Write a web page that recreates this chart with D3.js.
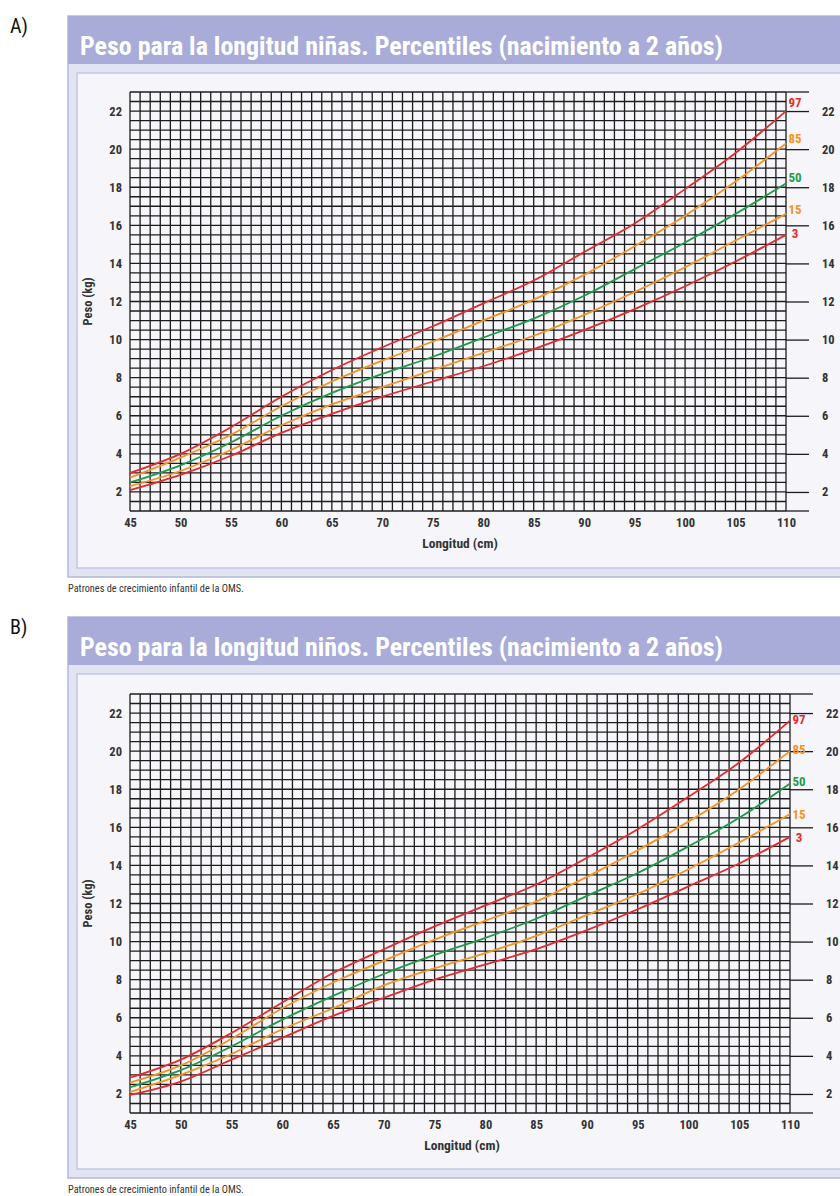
<!DOCTYPE html>
<html>
<head>
<meta charset="utf-8">
<script src="https://cdn.jsdelivr.net/npm/d3@7"></script>
<style>
body { margin: 0; background: #fff; }
text { font-family: "Liberation Sans Narrow", "Roboto Condensed", "DejaVu Sans Condensed", Roboto, sans-serif; }
</style>
</head>
<body>
<script>
// lengths (cm) where the curves are read
var lengths = [45, 50, 55, 60, 65, 70, 75, 80, 85, 90, 95, 100, 105, 110]
var percentiles = ["3", "15", "50", "85", "97"]
var lineColors = ["#e52a2f", "#f39324", "#1f9a4a", "#f39324", "#e52a2f"]
var xTicks = [45, 50, 55, 60, 65, 70, 75, 80, 85, 90, 95, 100, 105, 110]
var yTicks = [2, 4, 6, 8, 10, 12, 14, 16, 18, 20, 22]

// niñas
var girlsP3  = [2.1, 2.9, 3.9, 5.1, 6.1, 7.0, 7.8, 8.6, 9.5, 10.5, 11.6, 12.8, 14.1, 15.5]
var girlsP15 = [2.3, 3.1, 4.2, 5.5, 6.6, 7.5, 8.4, 9.3, 10.2, 11.3, 12.5, 13.8, 15.2, 16.6]
var girlsP50 = [2.5, 3.4, 4.6, 6.0, 7.2, 8.2, 9.1, 10.1, 11.1, 12.3, 13.7, 15.1, 16.6, 18.2]
var girlsP85 = [2.75, 3.8, 5.0, 6.5, 7.8, 8.9, 9.9, 11.0, 12.1, 13.4, 14.9, 16.5, 18.3, 20.3]
var girlsP97 = [3.0, 4.0, 5.4, 7.0, 8.4, 9.6, 10.7, 11.9, 13.1, 14.6, 16.1, 17.9, 19.8, 22.0]

// niños
var boysP3  = [1.95, 2.65, 3.8, 4.95, 6.1, 7.05, 8.0, 8.8, 9.6, 10.6, 11.7, 12.9, 14.1, 15.5]
var boysP15 = [2.1, 3.0, 4.1, 5.4, 6.5, 7.7, 8.6, 9.4, 10.3, 11.4, 12.5, 13.8, 15.2, 16.7]
var boysP50 = [2.35, 3.25, 4.5, 5.9, 7.15, 8.3, 9.3, 10.2, 11.2, 12.4, 13.6, 15.0, 16.5, 18.3]
var boysP85 = [2.6, 3.5, 4.9, 6.5, 7.85, 9.0, 10.1, 11.1, 12.1, 13.4, 14.8, 16.3, 18.0, 20.0]
var boysP97 = [2.85, 3.8, 5.2, 6.8, 8.35, 9.6, 10.8, 11.9, 13.0, 14.4, 15.9, 17.6, 19.4, 21.6]

var svg = d3.select("body").append("svg")
    .attr("width", 840)
    .attr("height", 1196)

function drawChart(top, letter, title, series, plot, labelDy) {
    var g = svg.append("g").attr("transform", "translate(0," + top + ")")

    g.append("text")
        .attr("x", 10).attr("y", 33)
        .attr("font-family", "Open Sans, sans-serif")
        .attr("font-size", 20).attr("fill", "#111")
        .text(letter)

    // panel
    g.append("rect").attr("x", 68).attr("y", 16).attr("width", 790).attr("height", 561)
        .attr("fill", "#e3e4f2").attr("stroke", "#b4b7dd").attr("stroke-width", 1.5)
    g.append("rect").attr("x", 77).attr("y", 73).attr("width", 780).attr("height", 495)
        .attr("fill", "#f6f6fa").attr("stroke", "#c4c6e6").attr("stroke-width", 1.5)
    g.append("rect").attr("x", 68).attr("y", 16).attr("width", 790).attr("height", 48)
        .attr("fill", "#a9acd8")

    g.append("text")
        .attr("x", 80).attr("y", 55)
        .attr("font-size", 25).attr("font-weight", "bold").attr("fill", "#fff")
        .attr("textLength", 643).attr("lengthAdjust", "spacingAndGlyphs")
        .text(title)

    var x = d3.scaleLinear().domain([45, 110]).range([plot.left, plot.right])
    var y = d3.scaleLinear().domain([1, 23]).range([plot.bottom, plot.top])

    // grid
    var grid = g.append("g").attr("stroke", "#1c1c1c").attr("stroke-width", 1.3)
    grid.selectAll(".v").data(d3.range(45, 111, 1)).join("line")
        .attr("x1", d => x(d)).attr("x2", d => x(d))
        .attr("y1", plot.top).attr("y2", plot.bottom)
    grid.selectAll(".h").data(d3.range(1, 23.01, 0.5)).join("line")
        .attr("x1", plot.left).attr("x2", plot.right)
        .attr("y1", d => y(d)).attr("y2", d => y(d))
    grid.append("line").attr("x1", plot.right).attr("x2", plot.right + 23)
        .attr("y1", y(23)).attr("y2", y(23))
    grid.append("line").attr("x1", plot.right).attr("x2", plot.right + 23)
        .attr("y1", y(1)).attr("y2", y(1))

    var bottomAxis = g.append("g")
        .attr("transform", "translate(0," + plot.bottom + ")")
        .call(d3.axisBottom(x).tickValues(xTicks).tickSize(0).tickPadding(7))
    var leftAxis = g.append("g")
        .attr("transform", "translate(" + plot.left + ",0)")
        .call(d3.axisLeft(y).tickValues(yTicks).tickSize(0).tickPadding(8))
    var rightAxis = g.append("g")
        .attr("transform", "translate(" + plot.right + ",0)")
        .call(d3.axisRight(y).tickValues(yTicks).tickSize(23).tickPadding(13))

    ;[bottomAxis, leftAxis, rightAxis].forEach(function(a) {
        a.select(".domain").remove()
        a.selectAll("text")
            .attr("font-family", "Liberation Sans Narrow, Roboto Condensed, DejaVu Sans Condensed, sans-serif")
            .attr("font-size", 12.5).attr("font-weight", "bold").attr("fill", "#333")
    })
    rightAxis.selectAll("line").attr("stroke", "#1c1c1c").attr("stroke-width", 1.3)

    g.append("text")
        .attr("x", (plot.left + plot.right) / 2 + 2).attr("y", plot.bottom + 37)
        .attr("text-anchor", "middle")
        .attr("font-size", 13.5).attr("font-weight", "bold").attr("fill", "#333")
        .text("Longitud (cm)")

    g.append("text")
        .attr("transform", "translate(92," + (plot.top + plot.bottom) / 2 + ") rotate(-90)")
        .attr("text-anchor", "middle")
        .attr("font-size", 12.5).attr("font-weight", "bold").attr("fill", "#333")
        .text("Peso (kg)")

    // percentile curves
    var line = d3.line()
        .x((d, i) => x(lengths[i]))
        .y(d => y(d))
        .curve(d3.curveMonotoneX)

    series.forEach(function(s, k) {
        g.append("path")
            .attr("d", line(s))
            .attr("fill", "none")
            .attr("stroke", lineColors[k])
            .attr("stroke-width", 1.8)

        g.append("text")
            .attr("x", x(110) + 9)
            .attr("y", y(s[s.length - 1]) + labelDy[k])
            .attr("text-anchor", "middle")
            .attr("font-size", 13).attr("font-weight", "bold")
            .attr("fill", lineColors[k])
            .text(percentiles[k])
    })

    g.append("text")
        .attr("x", 68).attr("y", 592)
        .attr("font-family", "Liberation Sans, Arial, sans-serif")
        .attr("font-size", 10.3).attr("fill", "#333")
        .text("Patrones de crecimiento infantil de la OMS.")
}

drawChart(0, "A)", "Peso para la longitud niñas. Percentiles (nacimiento a 2 años)",
    [girlsP3, girlsP15, girlsP50, girlsP85, girlsP97],
    {left: 130, right: 786, top: 92, bottom: 511},
    [3, 0, -1, 0, -4])

drawChart(601, "B)", "Peso para la longitud niños. Percentiles (nacimiento a 2 años)",
    [boysP3, boysP15, boysP50, boysP85, boysP97],
    {left: 130, right: 790, top: 93, bottom: 512},
    [5, 5, 2, 3, 3])
</script>
</body>
</html>
